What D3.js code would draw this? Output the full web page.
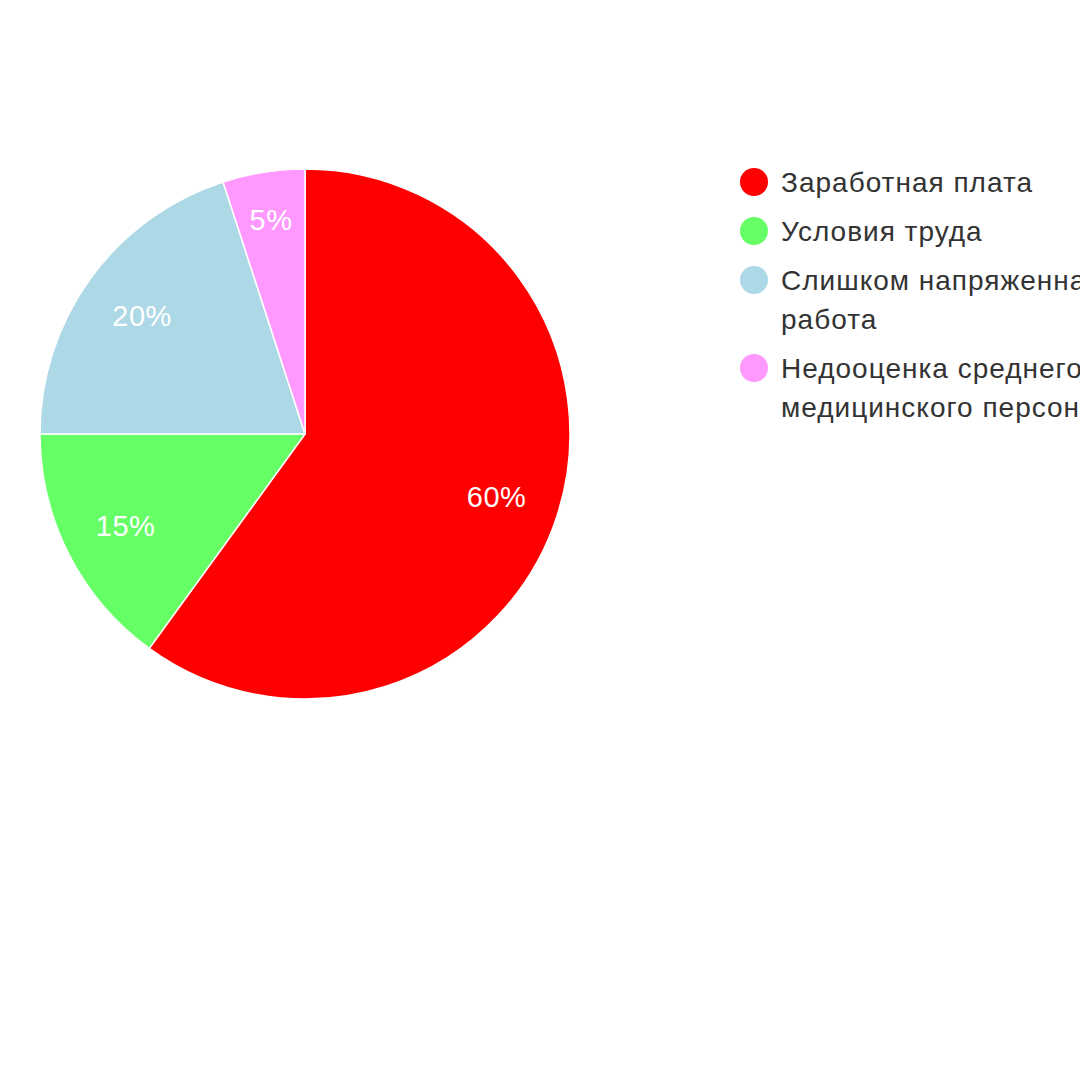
<!DOCTYPE html>
<html>
<head>
<meta charset="utf-8">
<script src="https://cdn.jsdelivr.net/npm/d3@7"></script>
<style>
  html, body { margin: 0; padding: 0; background: #fff; overflow: hidden; }
  svg { display: block; font-family: Arial, "Liberation Sans", sans-serif; }
</style>
</head>
<body>
<svg id="chart"></svg>
<script>
// Chart data
const categories = [
  "Заработная плата",
  "Условия труда",
  "Слишком напряженная работа",
  "Недооценка среднего медицинского персонала"
];
const values = [60, 15, 20, 5];
const colors = ["#ff0000", "#66ff66", "#add8e6", "#ff99ff"];

const width = 1080;
const height = 1080;
const cx = 305;
const cy = 434;
const radius = 265;

const svg = d3.select("#chart")
  .attr("width", width)
  .attr("height", height);

const data = categories.map((c, i) => ({ name: c, value: values[i], color: colors[i] }));

const pie = d3.pie()
  .sort(null)
  .value(d => d.value);

const arc = d3.arc()
  .innerRadius(0)
  .outerRadius(radius);

const total = d3.sum(values);

const g = svg.append("g")
  .attr("transform", `translate(${cx},${cy})`);

const arcs = pie(data);

// Slices
g.selectAll("path.slice")
  .data(arcs)
  .enter()
  .append("path")
  .attr("class", "slice")
  .attr("d", arc)
  .attr("fill", d => d.data.color)
  .attr("stroke", "#ffffff")
  .attr("stroke-width", 1.5);

// Percent labels inside slices, along the bisector
g.selectAll("text.pct")
  .data(arcs)
  .enter()
  .append("text")
  .attr("class", "pct")
  .attr("transform", d => {
    const a = (d.startAngle + d.endAngle) / 2;
    const r = d.data.value < 10 ? radius * 0.82 : radius * 0.76;
    return `translate(${r * Math.sin(a)},${-r * Math.cos(a)})`;
  })
  .attr("text-anchor", "middle")
  .attr("dy", "0.36em")
  .attr("fill", "#ffffff")
  .style("font-size", "29px")
  .style("letter-spacing", "0.5px")
  .text(d => Math.round(d.data.value / total * 100) + "%");

// Legend
const legendX = 754;
const legendTop = 182;
const lineH = 39;
const itemGap = 10;
const maxTextWidth = 380;

const legend = svg.append("g").attr("class", "legend");

let y = legendTop;
data.forEach(d => {
  const item = legend.append("g");
  item.append("circle")
    .attr("cx", legendX)
    .attr("cy", y)
    .attr("r", 14)
    .attr("fill", d.color);

  const text = item.append("text")
    .attr("x", legendX + 27)
    .attr("y", y)
    .attr("fill", "#333333")
    .style("font-size", "28px")
    .style("letter-spacing", "1px");

  // simple word wrap
  const words = d.name.split(" ");
  let line = [];
  let lineCount = 0;
  let tspan = text.append("tspan").attr("x", legendX + 27).attr("dy", "0.36em");
  words.forEach(w => {
    line.push(w);
    tspan.text(line.join(" "));
    if (tspan.node().getComputedTextLength() > maxTextWidth && line.length > 1) {
      line.pop();
      tspan.text(line.join(" "));
      line = [w];
      lineCount++;
      tspan = text.append("tspan")
        .attr("x", legendX + 27)
        .attr("dy", lineH + "px")
        .text(w);
    }
  });
  y += (lineCount + 1) * lineH + itemGap;
});
</script>
</body>
</html>
